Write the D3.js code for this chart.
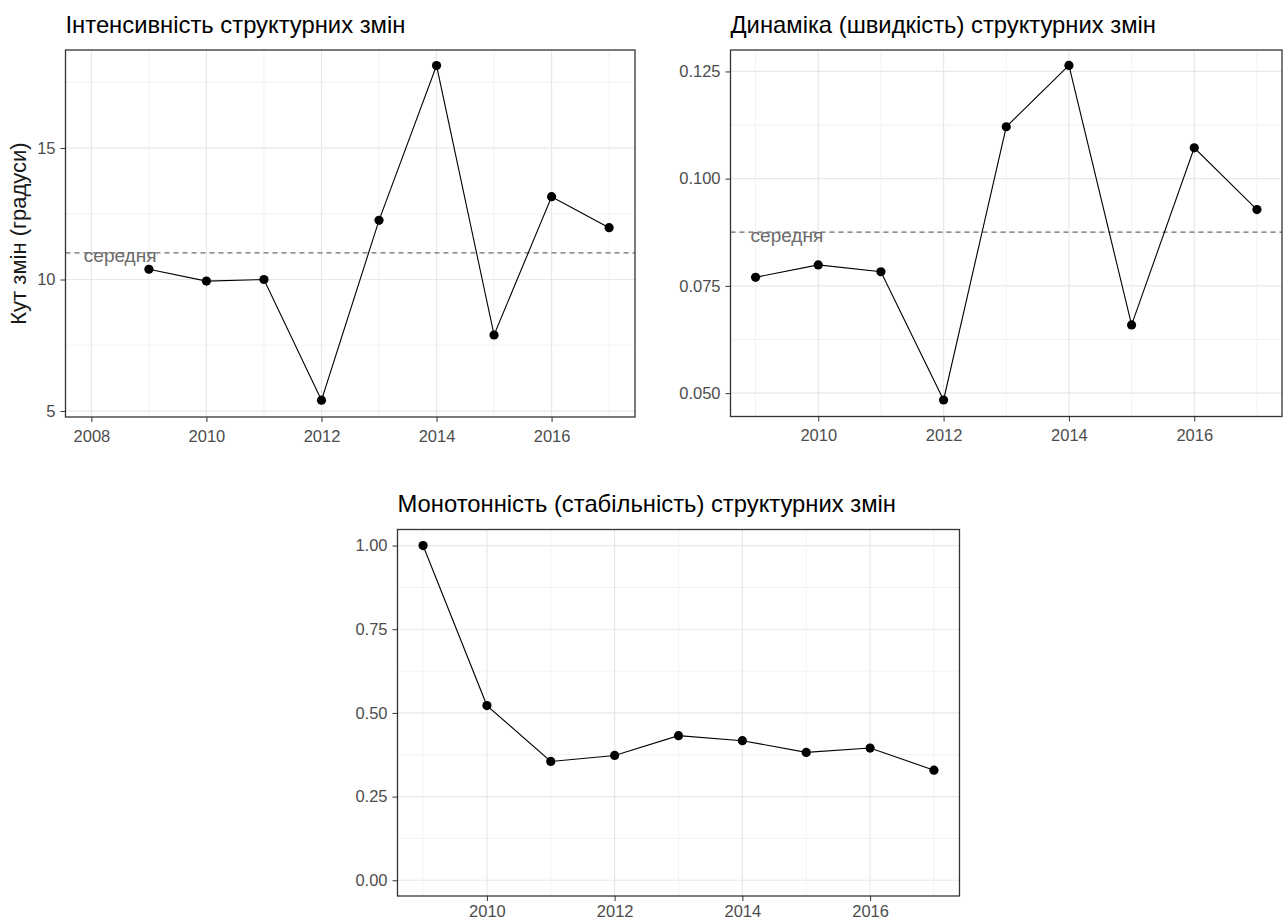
<!DOCTYPE html>
<html>
<head>
<meta charset="utf-8">
<script src="https://cdn.jsdelivr.net/npm/d3@7"></script>
<style>
  html, body { margin: 0; padding: 0; background: #fff; }
  svg { display: block; }
  text { font-family: "Liberation Sans", Arial, sans-serif; }
</style>
</head>
<body>
<svg id="chart" width="1288" height="922"></svg>
<script>
// ---- data ----
const years = [2009, 2010, 2011, 2012, 2013, 2014, 2015, 2016, 2017];
const intensity = [10.39, 9.94, 10.0, 5.41, 12.25, 18.14, 7.89, 13.15, 11.97];
const dynamics = [0.0770, 0.0799, 0.0783, 0.0484, 0.1121, 0.1264, 0.0659, 0.1072, 0.0928];
const monotony = [1.00, 0.522, 0.355, 0.373, 0.432, 0.417, 0.382, 0.395, 0.329];

const titles = [
  "Інтенсивність структурних змін",
  "Динаміка (швидкість) структурних змін",
  "Монотонність (стабільність) структурних змін"
];
const yAxisTitle = "Кут змін (градуси)";
const meanLabel = "середня";

const xTicks1 = [2008, 2010, 2012, 2014, 2016];
const xTicks = [2010, 2012, 2014, 2016];
const yTicks1 = [5, 10, 15];
const yTicks2 = [0.050, 0.075, 0.100, 0.125];
const yTicks3 = [0.00, 0.25, 0.50, 0.75, 1.00];

const svg = d3.select("#chart");

function drawPanel(o) {
  const g = svg.append("g");
  const x = d3.scaleLinear().domain(o.xDomain).range([o.left, o.right]);
  const y = d3.scaleLinear().domain(o.yDomain).range([o.bottom, o.top]);

  // minor grid
  const xMinor = o.xTicks.map(v => v + 1).concat(o.xTicks.map(v => v - 1))
    .filter((v, i, a) => a.indexOf(v) === i && v > o.xDomain[0] && v < o.xDomain[1] && !o.xTicks.includes(v));
  const yStep = o.yTicks[1] - o.yTicks[0];
  const yMinor = o.yTicks.map(v => v + yStep / 2).concat(o.yTicks.map(v => v - yStep / 2))
    .filter((v, i, a) => a.findIndex(w => Math.abs(w - v) < 1e-9) === i && v > o.yDomain[0] && v < o.yDomain[1]);

  g.selectAll(".xminor").data(xMinor).join("line")
    .attr("x1", d => x(d)).attr("x2", d => x(d)).attr("y1", o.top).attr("y2", o.bottom)
    .attr("stroke", "#f2f2f2").attr("stroke-width", 1);
  g.selectAll(".yminor").data(yMinor).join("line")
    .attr("y1", d => y(d)).attr("y2", d => y(d)).attr("x1", o.left).attr("x2", o.right)
    .attr("stroke", "#f2f2f2").attr("stroke-width", 1);
  g.selectAll(".xmajor").data(o.xTicks).join("line")
    .attr("x1", d => x(d)).attr("x2", d => x(d)).attr("y1", o.top).attr("y2", o.bottom)
    .attr("stroke", "#e8e8e8").attr("stroke-width", 1.2);
  g.selectAll(".ymajor").data(o.yTicks).join("line")
    .attr("y1", d => y(d)).attr("y2", d => y(d)).attr("x1", o.left).attr("x2", o.right)
    .attr("stroke", "#e8e8e8").attr("stroke-width", 1.2);

  // mean line
  if (o.showMean) {
    const m = d3.mean(o.values);
    g.append("line")
      .attr("x1", o.left).attr("x2", o.right).attr("y1", y(m)).attr("y2", y(m))
      .attr("stroke", "#6b6b6b").attr("stroke-width", 1.2).attr("stroke-dasharray", "5,4");
    g.append("text")
      .attr("x", x(o.meanLabelX)).attr("y", y(m) + 4.5)
      .attr("text-anchor", "middle").attr("dominant-baseline", "middle")
      .attr("font-size", 19).attr("fill", "#6b6b6b")
      .text(meanLabel);
  }

  // line + points
  const pts = years.map((yr, i) => [yr, o.values[i]]);
  g.append("path").datum(pts)
    .attr("fill", "none").attr("stroke", "#000").attr("stroke-width", 1.1)
    .attr("d", d3.line().x(d => x(d[0])).y(d => y(d[1])));
  g.selectAll(".pt").data(pts).join("circle")
    .attr("cx", d => x(d[0])).attr("cy", d => y(d[1])).attr("r", 4.6).attr("fill", "#000");

  // axes
  const xAxis = d3.axisBottom(x).tickValues(o.xTicks).tickFormat(d3.format("d")).tickSize(5).tickPadding(o.xPad);
  const yAxis = d3.axisLeft(y).tickValues(o.yTicks).tickFormat(o.yFormat).tickSize(5).tickPadding(5);
  const gx = g.append("g").attr("transform", `translate(0,${o.bottom})`).call(xAxis);
  const gy = g.append("g").attr("transform", `translate(${o.left},0)`).call(yAxis);
  [gx, gy].forEach(a => {
    a.select(".domain").remove();
    a.selectAll(".tick line").attr("stroke", "#333");
    a.selectAll(".tick text").attr("fill", "#4d4d4d").attr("font-size", 16.5)
      .style("font-family", "'Liberation Sans', Arial, sans-serif");
  });

  // panel border
  g.append("rect")
    .attr("x", o.left).attr("y", o.top).attr("width", o.right - o.left).attr("height", o.bottom - o.top)
    .attr("fill", "none").attr("stroke", "#333").attr("stroke-width", 1.3);

  // title
  g.append("text").attr("x", o.left).attr("y", o.top - 17.5)
    .attr("font-size", 23.8).attr("fill", "#000").text(o.title);

  if (o.yTitle) {
    g.append("text")
      .attr("transform", `translate(${o.left - 45.5},${(o.top + o.bottom) / 2}) rotate(-90)`)
      .attr("text-anchor", "middle").attr("dominant-baseline", "middle")
      .attr("font-size", 22).attr("fill", "#1a1a1a").text(o.yTitle);
  }
}

drawPanel({
  left: 65.5, right: 635, top: 50, bottom: 417,
  xDomain: [2007.55, 2017.45], yDomain: [4.77, 18.73],
  xTicks: xTicks1, yTicks: yTicks1, yFormat: d3.format("d"), xPad: 8,
  values: intensity, showMean: true, meanLabelX: 2008.5,
  title: titles[0], yTitle: yAxisTitle
});

drawPanel({
  left: 730.5, right: 1282, top: 50, bottom: 416.5,
  xDomain: [2008.6, 2017.4], yDomain: [0.04455, 0.1300],
  xTicks: xTicks, yTicks: yTicks2, yFormat: d3.format(".3f"), xPad: 8,
  values: dynamics, showMean: true, meanLabelX: 2009.5,
  title: titles[1]
});

drawPanel({
  left: 397.5, right: 959.5, top: 529.5, bottom: 896,
  xDomain: [2008.6, 2017.4], yDomain: [-0.047, 1.048],
  xTicks: xTicks, yTicks: yTicks3, yFormat: d3.format(".2f"), xPad: 4,
  values: monotony, showMean: false,
  title: titles[2]
});
</script>
</body>
</html>
